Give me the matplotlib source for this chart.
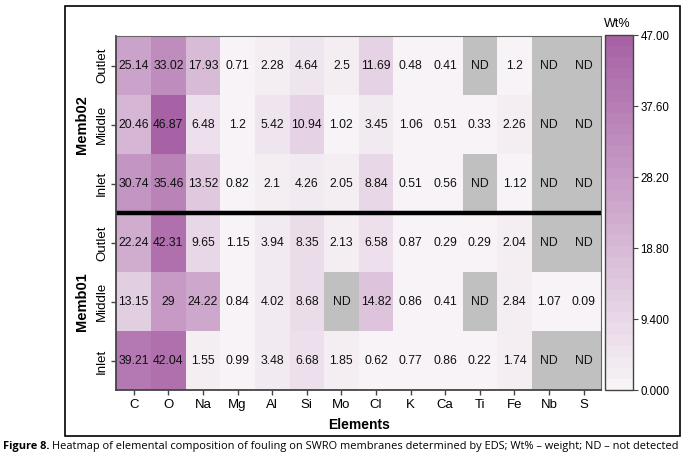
import numpy as np
import matplotlib
matplotlib.use("Agg")
import matplotlib.pyplot as plt
from matplotlib.colors import LinearSegmentedColormap
from matplotlib.patches import Rectangle

plt.rcParams['font.family'] = ['Liberation Sans', 'DejaVu Sans']

nd = np.nan
elements = ["C", "O", "Na", "Mg", "Al", "Si", "Mo", "Cl", "K", "Ca", "Ti", "Fe", "Nb", "S"]
positions = ["Outlet", "Middle", "Inlet", "Outlet", "Middle", "Inlet"]
groups = ["Memb02", "Memb01"]

# Wt% per element, ND = not detected
m02_outlet = [25.14, 33.02, 17.93, 0.71, 2.28, 4.64, 2.5, 11.69, 0.48, 0.41, nd, 1.2, nd, nd]
m02_middle = [20.46, 46.87, 6.48, 1.2, 5.42, 10.94, 1.02, 3.45, 1.06, 0.51, 0.33, 2.26, nd, nd]
m02_inlet = [30.74, 35.46, 13.52, 0.82, 2.1, 4.26, 2.05, 8.84, 0.51, 0.56, nd, 1.12, nd, nd]
m01_outlet = [22.24, 42.31, 9.65, 1.15, 3.94, 8.35, 2.13, 6.58, 0.87, 0.29, 0.29, 2.04, nd, nd]
m01_middle = [13.15, 29, 24.22, 0.84, 4.02, 8.68, nd, 14.82, 0.86, 0.41, nd, 2.84, 1.07, 0.09]
m01_inlet = [39.21, 42.04, 1.55, 0.99, 3.48, 6.68, 1.85, 0.62, 0.77, 0.86, 0.22, 1.74, nd, nd]

cbar_ticks = [0, 9.4, 18.8, 28.2, 37.6, 47.0]
cbar_labels = ["0.000", "9.400", "18.80", "28.20", "37.60", "47.00"]

data = np.array([m02_outlet, m02_middle, m02_inlet, m01_outlet, m01_middle, m01_inlet])
masked = np.ma.masked_invalid(data)

cmap = LinearSegmentedColormap.from_list("wt", ["#f7f3f6", "#a762a5"], N=32)
cmap.set_bad("#c0c0c0")

fig = plt.figure(figsize=(6.88, 4.62), dpi=100)
ax = fig.add_axes([0.1693, 0.1548, 0.7042, 0.7673])
cax = fig.add_axes([0.879, 0.1558, 0.0407, 0.7684])

mesh = ax.pcolormesh(masked, cmap=cmap, vmin=0, vmax=47)
ax.set_xlim(0, len(elements))
ax.set_ylim(len(positions), 0)

for i in range(data.shape[0]):
    for j in range(data.shape[1]):
        v = data[i, j]
        txt = "ND" if np.isnan(v) else f"{v:g}"
        ax.text(j + 0.5, i + 0.5, txt, ha="center", va="center", fontsize=8.8, color="#111111")

ax.axhline(3, color="black", lw=3.2)

ax.set_xticks(np.arange(len(elements)) + 0.5)
ax.set_xticklabels(elements, fontsize=9.5)
ax.set_yticks(np.arange(len(positions)) + 0.5)
ax.set_yticklabels(positions, fontsize=9.5, rotation=90, va="center")
ax.tick_params(length=3.5, width=1, color="#444444", pad=2.5)
ax.set_xlabel("Elements", fontsize=10, fontweight="bold", labelpad=5)
for s in ax.spines.values():
    s.set_color("#666666")
    s.set_linewidth(0.8)
ax.spines["left"].set_color("#444444")
ax.spines["bottom"].set_color("#444444")
ax.spines["left"].set_linewidth(1.3)
ax.spines["bottom"].set_linewidth(1.3)

for k, g in enumerate(groups):
    ax.text(-0.071, 1.5 + 3 * k, g, transform=ax.get_yaxis_transform(), rotation=90,
            ha="center", va="center", fontsize=10.5, fontweight="bold")

cb = fig.colorbar(mesh, cax=cax)
cb.set_ticks(cbar_ticks)
cb.set_ticklabels(cbar_labels)
cb.ax.tick_params(labelsize=8.3, length=3.5, color="#444444", pad=2)
cb.outline.set_edgecolor("#444444")
cb.outline.set_linewidth(1)
cax.text(0.45, 1.015, "Wt%", transform=cax.transAxes, ha="center", va="bottom", fontsize=9)

fig.patches.append(Rectangle((65 / 688, 26 / 462), 615 / 688, 430 / 462, transform=fig.transFigure,
                             fill=False, edgecolor="black", lw=1.2))

cap_y = 1 - 447 / 462
t1 = fig.text(3 / 688, cap_y, "Figure 8.", fontsize=7.95, fontweight="bold",
              family=["Open Sans", "DejaVu Sans"], va="center")
fig.canvas.draw()
bb = t1.get_window_extent()
x2 = (bb.x1 + 2.5) / fig.bbox.width
fig.text(x2, cap_y, "Heatmap of elemental composition of fouling on SWRO membranes determined by EDS; Wt% \u2013 weight; ND \u2013 not detected",
         fontsize=7.95, family=["Open Sans", "DejaVu Sans"], va="center")

fig.savefig("out.png", dpi=100)
